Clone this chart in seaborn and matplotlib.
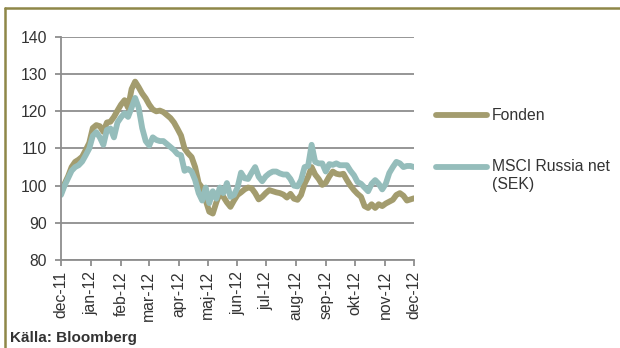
import numpy as np
import pandas as pd
import matplotlib
matplotlib.use("Agg")
import matplotlib.pyplot as plt
from matplotlib.lines import Line2D
import seaborn as sns

# Index values (start = 100-ish), sampled roughly twice a week Dec 2011 - Dec 2012
fonden = [
    98, 100.5, 102.5, 105, 106.4, 107, 107.8, 109.6, 111.5, 115.5,
    116.3, 116, 114.5, 117, 117.2, 118.5, 120.2, 121.8, 123, 121,
    126, 128, 126.5, 124.8, 123.5, 121.8, 120.5, 120, 120.2, 119.8,
    119, 118.2, 117, 115.3, 113.5, 110, 108.7, 107.7, 105, 100.7,
    99.4, 96, 93, 92.5, 95.5, 98, 97, 95.5, 94.3, 96,
    97.5, 98.2, 99, 99.5, 99.3, 98, 96.3, 97, 98, 98.8,
    98.5, 98.2, 98, 97.6, 96.8, 97.8, 96.5, 96.2, 97.5, 100.5,
    102.4, 105, 103, 101.8, 100.2, 100.8, 102.5, 103.8, 103.2, 103,
    103.2, 101.5, 100, 98.8, 97.8, 97, 94.5, 94, 95, 94,
    95, 94.5, 95.2, 95.7, 96.2, 97.5, 98, 97.3, 96, 96.3,
    96.6,
]
msci = [
    97.5, 100, 102, 104, 105, 105.5, 106.5, 108.2, 110, 113.4,
    114.4, 113, 111, 115, 115.4, 113, 117, 118.4, 119.5, 118.5,
    121, 123.6, 121, 115.5, 112, 110.8, 113, 112.3, 112, 112,
    111.2, 110.4, 109.6, 108.5, 108.2, 104, 104.5, 103.8, 101.5, 98,
    96, 99.5, 95.3, 98.5, 96.5, 99.5, 98, 100.7, 97, 97.5,
    99.5, 103.5, 102, 101.8, 103.5, 105, 102.4, 101.2, 102.5, 103.3,
    103.8, 103.8, 103.3, 103, 103, 101.8, 100, 99.8, 101.5, 105,
    105.3, 111, 106.4, 106, 106, 103.8, 105.8, 105.6, 106, 105.5,
    105.5, 105.5, 104, 102.8, 101, 100.5, 99.5, 98.5, 100.5, 101.5,
    100.5, 99, 100.5, 103.4, 105, 106.4, 106, 105, 105.3, 105.3,
    105,
]
series_names = ["Fonden", "MSCI Russia net\n(SEK)"]
month_labels = ["dec-11", "jan-12", "feb-12", "mar-12", "apr-12", "maj-12",
                "jun-12", "jul-12", "aug-12", "sep-12", "okt-12", "nov-12",
                "dec-12"]
y_ticks = [80, 90, 100, 110, 120, 130, 140]

start, end = pd.Timestamp("2011-12-01"), pd.Timestamp("2012-12-01")
dates = pd.date_range(start, end, periods=len(fonden))

df = pd.concat([
    pd.DataFrame({"Datum": dates, "Index": fonden, "Serie": series_names[0]}),
    pd.DataFrame({"Datum": dates, "Index": msci, "Serie": series_names[1]}),
], ignore_index=True)

sns.set_style("white")
plt.rcParams["font.family"] = ["Liberation Sans", "DejaVu Sans"]

olive = "#A39C6E"
teal = "#95BDBB"
grid_c = "#8E8E8E"
text_c = "#333333"
fs = 11.3
lw = 4.2

W, H = 620, 348
fig = plt.figure(figsize=(W / 100, H / 100), dpi=100)
ax = fig.add_axes([61 / W, 1 - 260 / H, (414 - 61) / W, (260 - 37) / H])

sns.lineplot(data=df, x="Datum", y="Index", hue="Serie",
             palette={series_names[0]: olive, series_names[1]: teal},
             hue_order=series_names, linewidth=lw, legend=False, ax=ax,
             solid_capstyle="round", solid_joinstyle="round")

ax.set_xlim(start, end)
ax.set_ylim(80, 140)
ax.set_yticks(y_ticks)
ax.set_yticklabels([str(v) for v in y_ticks])
month_starts = pd.date_range(start, end, freq="MS")
ax.set_xticks(month_starts)
ax.set_xticklabels(month_labels, rotation=90)
ax.set_xlabel("")
ax.set_ylabel("")

ax.yaxis.grid(True, color=grid_c, linewidth=1.3)
ax.xaxis.grid(False)
ax.set_axisbelow(True)
for side in ("top", "right"):
    ax.spines[side].set_visible(False)
for side in ("left", "bottom"):
    ax.spines[side].set_color(grid_c)
    ax.spines[side].set_linewidth(1.3)
ax.tick_params(axis="both", direction="out", length=4, width=1.3,
               color=grid_c, labelcolor=text_c, labelsize=fs,
               left=True, bottom=True)
ax.tick_params(axis="y", pad=6)
ax.tick_params(axis="x", pad=4)

# Legend on the right
def fx(px):
    return px / W

def fy(py):
    return 1 - py / H

for py, col in ((115, olive), (167, teal)):
    fig.add_artist(Line2D([fx(436), fx(487)], [fy(py), fy(py)], color=col,
                          linewidth=lw, solid_capstyle="round"))
fig.text(fx(492), fy(115), series_names[0], fontsize=fs, color=text_c,
         va="center", ha="left")
fig.text(fx(492), fy(167), "MSCI Russia net", fontsize=fs, color=text_c,
         va="center", ha="left")
fig.text(fx(492), fy(184), "(SEK)", fontsize=fs, color=text_c,
         va="center", ha="left")

# Source note
fig.text(fx(10), fy(338), "Källa: Bloomberg", fontsize=11, fontweight="bold",
         color=text_c, va="center", ha="left")

# Frame lines at top and left
frame_c = "#8E8748"
fig.add_artist(Line2D([fx(5), fx(5)], [0, fy(8)], color=frame_c, linewidth=1.8))
fig.add_artist(Line2D([fx(5), 1], [fy(8), fy(8)], color=frame_c, linewidth=1.8))

fig.savefig("out.png", dpi=100)
